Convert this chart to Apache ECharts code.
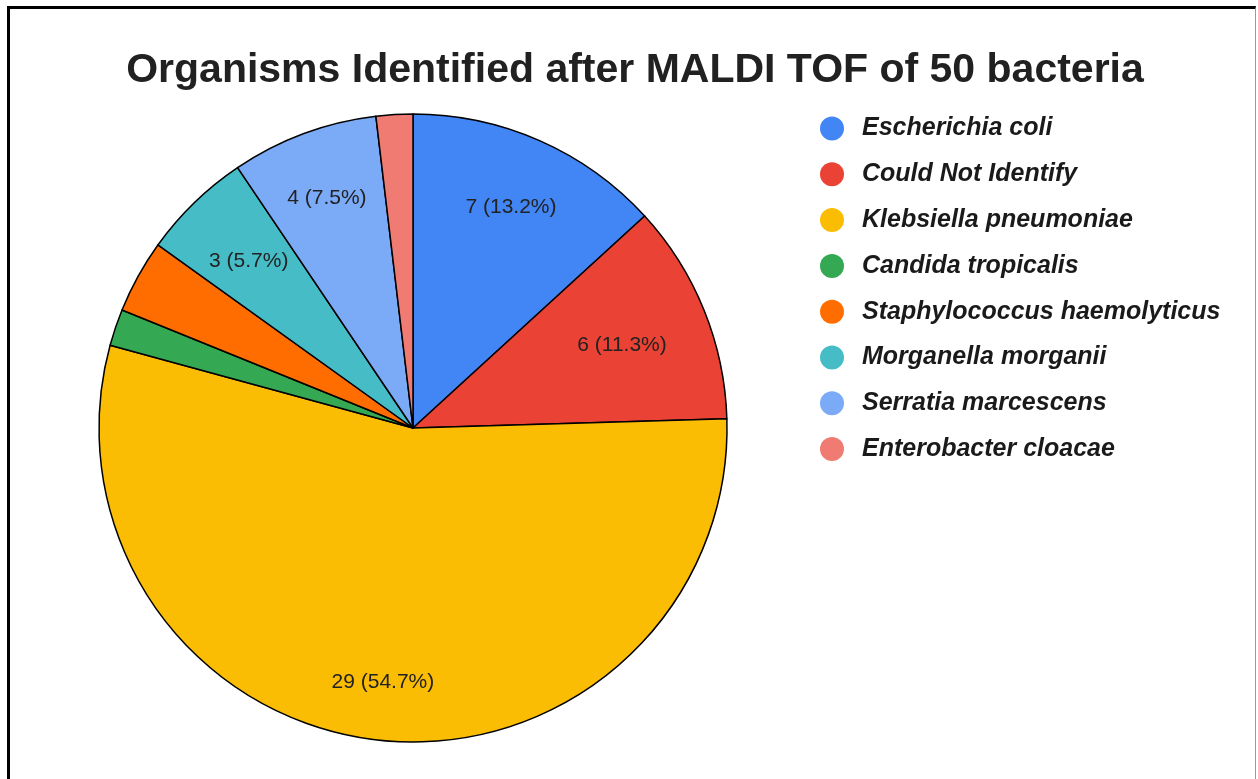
<!DOCTYPE html>
<html>
<head>
<meta charset="utf-8">
<title>Organisms Identified after MALDI TOF of 50 bacteria</title>
<script src="https://cdn.jsdelivr.net/npm/echarts@6/dist/echarts.min.js"></script>
<style>
  html, body { margin: 0; padding: 0; background: #ffffff; overflow: hidden; }
  #frame {
    position: absolute; left: 7px; top: 6px; width: 1249px; height: 800px;
    border-left: 3px solid #000; border-top: 3px solid #000; border-right: 1px solid #9a9a9a;
    box-sizing: border-box;
  }
  #chart { position: absolute; left: 0; top: 0; width: 1258px; height: 779px; }
</style>
</head>
<body>
<div id="frame"></div>
<div id="chart"></div>
<script>
// Organisms identified by MALDI-TOF (counts)
const organisms = [
  'Escherichia coli',
  'Could Not Identify',
  'Klebsiella pneumoniae',
  'Candida tropicalis',
  'Staphylococcus haemolyticus',
  'Morganella morganii',
  'Serratia marcescens',
  'Enterobacter cloacae'
];
const counts = [7, 6, 29, 1, 2, 3, 4, 1];
const sliceColors = ['#4285F4', '#EA4335', '#FBBC04', '#34A853', '#FF6D01', '#46BDC6', '#7BAAF7', '#F07B72'];
const chartTitle = 'Organisms Identified after MALDI TOF of 50 bacteria';

const total = counts.reduce((a, b) => a + b, 0);
const pieData = organisms.map((name, i) => ({ name: name, value: counts[i] }));

const chart = echarts.init(document.getElementById('chart'), null, { renderer: 'canvas' });

const fontFamily = '"Liberation Sans", Arial, sans-serif';
const CX = 413, CY = 428, R = 314;
// outer edge of each value label sits at this fraction of the radius
const LABEL_EDGE = 0.863;

chart.setOption({
  backgroundColor: 'transparent',
  color: sliceColors,
  animation: false,
  title: {
    text: chartTitle,
    left: 630,
    textAlign: 'center',
    top: 45,
    textStyle: { fontFamily: fontFamily, fontWeight: 'bold', fontSize: 41, color: '#212121' }
  },
  legend: {
    orient: 'vertical',
    left: 820,
    top: 116,
    padding: 0,
    icon: 'circle',
    itemWidth: 24,
    itemHeight: 24,
    itemGap: 20.8,
    selectedMode: false,
    data: organisms,
    itemStyle: { borderWidth: 0 },
    textStyle: {
      fontFamily: fontFamily, fontStyle: 'italic', fontWeight: 'bold',
      fontSize: 25, lineHeight: 24, color: '#1a1a1a', padding: [0, 0, 0, 13]
    }
  },
  series: [
    {
      type: 'pie',
      center: [CX, CY],
      radius: R,
      startAngle: 90,
      clockwise: true,
      avoidLabelOverlap: false,
      silent: true,
      itemStyle: { borderColor: '#000', borderWidth: 1.5 },
      labelLine: { show: false },
      label: {
        show: true,
        position: 'inside',
        fontFamily: fontFamily,
        fontSize: 21,
        color: '#222',
        formatter: p => (p.value / total >= 0.05)
          ? p.value + ' (' + (p.value / total * 100).toFixed(1) + '%)'
          : ''
      },
      // push each label outward along its slice direction so its outer edge
      // lands on a common ring
      labelLayout: function (p) {
        const r = p.labelRect;
        if (!r || r.width === 0) return {};
        const lx = r.x + r.width / 2, ly = r.y + r.height / 2;
        const dx = lx - CX, dy = ly - CY;
        const d = Math.hypot(dx, dy) || 1;
        const ux = dx / d, uy = dy / d;
        const half = Math.abs(ux) * r.width / 2 + Math.abs(uy) * r.height / 2;
        const dist = R * LABEL_EDGE - half;
        return { x: CX + ux * dist, y: CY + uy * dist + 2 };
      },
      data: pieData
    }
  ]
});
</script>
</body>
</html>
